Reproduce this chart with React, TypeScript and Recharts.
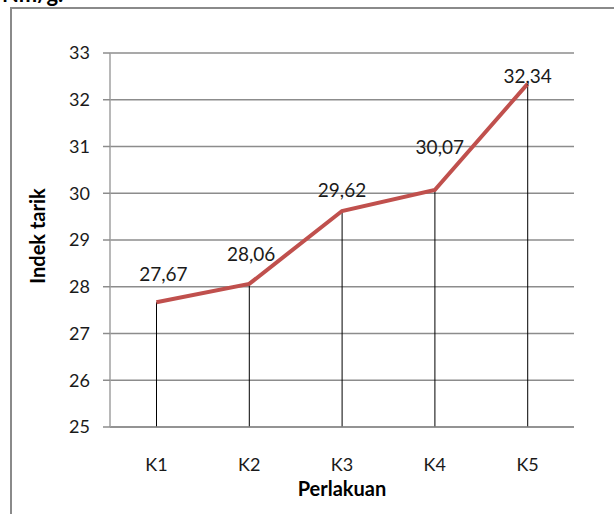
import { ComposedChart, Line, Bar, XAxis, YAxis, CartesianGrid, LabelList, Label } from 'recharts';

const categories = ['K1', 'K2', 'K3', 'K4', 'K5'];
const values = [27.67, 28.06, 29.62, 30.07, 32.34];
const yTicks = [25, 26, 27, 28, 29, 30, 31, 32, 33];

// where Excel dropped each data label relative to its point
const labelShift = [
  { dx: 7, dy: -29 },
  { dx: 2, dy: -30 },
  { dx: 0, dy: -22 },
  { dx: 5, dy: -43 },
  { dx: 0, dy: -8 },
];

const data = categories.map((name, i) => ({ name, value: values[i] }));

const FONT = 'Lato, "Open Sans", sans-serif';

const renderValueLabel = (props: any) => {
  const { x, y, value, index } = props;
  const s = labelShift[index] || { dx: 0, dy: -20 };
  return (
    <text
      x={x + s.dx}
      y={y + s.dy}
      textAnchor="middle"
      dominantBaseline="central"
      fontSize={19}
      fontFamily={FONT}
      fill="#1a1a1a"
    >
      {value.toFixed(2).replace('.', ',')}
    </text>
  );
};

export default function App() {
  return (
    <div
      style={{
        position: 'absolute',
        left: 0,
        top: 0,
        width: 614,
        height: 514,
        overflow: 'hidden',
        background: '#fff',
        fontFamily: FONT,
      }}
    >
      <div
        style={{
          position: 'absolute',
          left: 2,
          top: -20,
          fontSize: 22,
          fontWeight: 'bold',
          color: '#000',
        }}
      >
        Nm/g.
      </div>
      <div
        style={{
          position: 'absolute',
          left: 10,
          top: 7,
          width: 640,
          height: 540,
          border: '2px solid #8a8a8a',
        }}
      />
      <div style={{ position: 'absolute', left: 0, top: 0 }}>
        <ComposedChart
          width={614}
          height={514}
          data={data}
          margin={{ top: 53, right: 40, bottom: 37, left: 50 }}
        >
          <CartesianGrid vertical={false} stroke="#8c8c8c" strokeWidth={1.5} />
          <XAxis
            dataKey="name"
            height={50}
            stroke="#8c8c8c"
            strokeWidth={1.5}
            tickLine={false}
            tickSize={0}
            tickMargin={31}
            tick={{ fill: '#1a1a1a', fontSize: 18, fontFamily: FONT }}
          >
            <Label
              value="Perlakuan"
              position="bottom"
              offset={5}
              style={{ fontSize: 20, fontWeight: 'bold', fill: '#000', fontFamily: FONT }}
            />
          </XAxis>
          <YAxis
            domain={[25, 33]}
            ticks={yTicks}
            interval={0}
            width={60}
            stroke="#a0a0a0"
            strokeWidth={1.5}
            tickSize={7}
            tickMargin={13}
            tickLine={{ stroke: '#8c8c8c' }}
            tick={{ fill: '#1a1a1a', fontSize: 18, fontFamily: FONT }}
          >
            <Label
              value="Indek tarik"
              angle={-90}
              position="insideLeft"
              offset={-12}
              dy={-4}
              style={{ fontSize: 20, fontWeight: 'bold', fill: '#000', textAnchor: 'middle', fontFamily: FONT }}
            />
          </YAxis>
          <Bar dataKey="value" barSize={1} fill="#000" isAnimationActive={false} />
          <Line
            type="linear"
            dataKey="value"
            stroke="#c0504d"
            strokeWidth={4}
            dot={false}
            isAnimationActive={false}
          >
            <LabelList dataKey="value" content={renderValueLabel} />
          </Line>
        </ComposedChart>
      </div>
    </div>
  );
}
